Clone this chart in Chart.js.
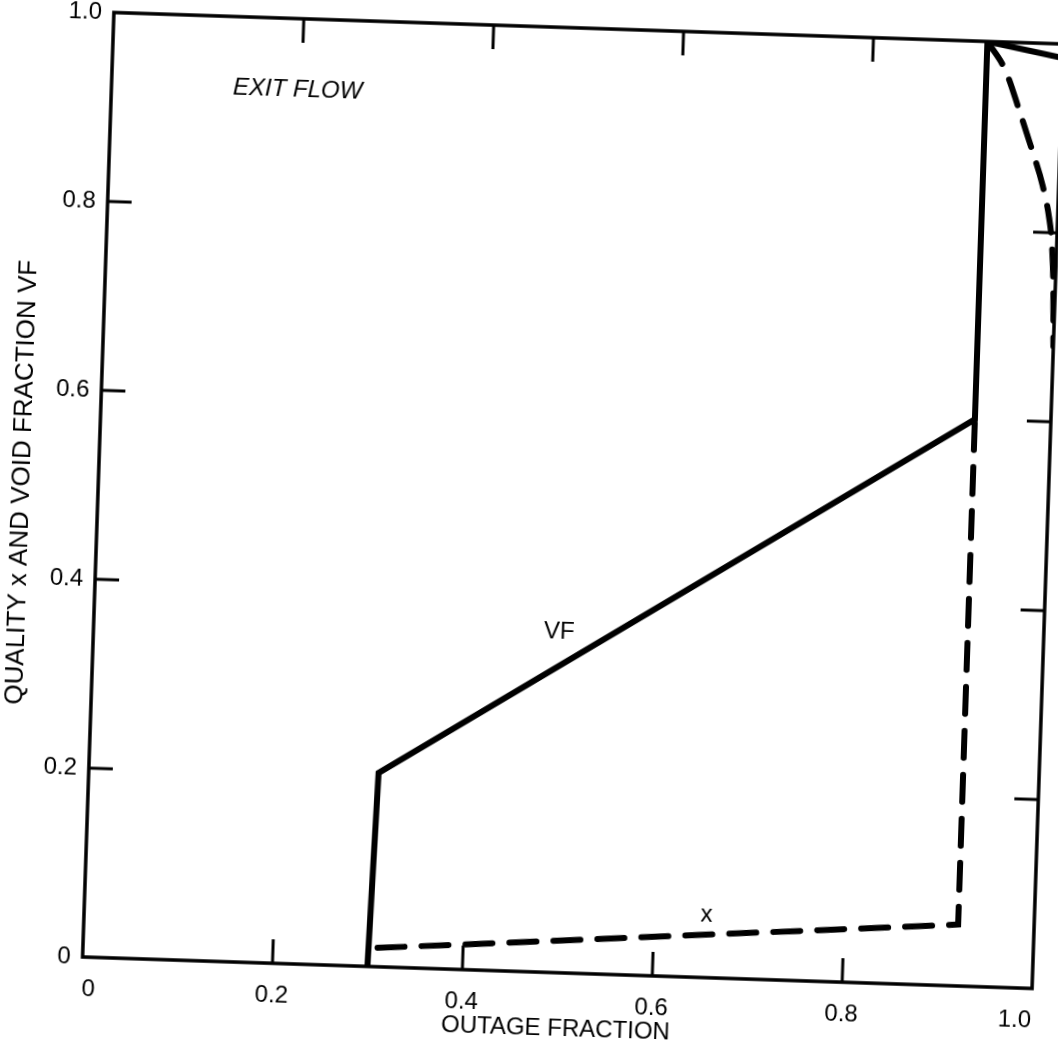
<!DOCTYPE html>
<html>
<head>
<meta charset="utf-8">
<script src="https://cdn.jsdelivr.net/npm/chart.js@4.4.0/dist/chart.umd.min.js"></script>
<style>
  html, body { margin: 0; padding: 0; background: #fff; overflow: hidden; }
  /* the scan is a little tilted, so tilt the canvas the same way */
  #chart { display: block; transform: rotate(1.9deg); transform-origin: 573px 500px; }
</style>
</head>
<body>
<canvas id="chart" width="1058" height="1041"></canvas>
<script>
// void fraction VF (solid line)
var vfX = [0.30, 0.305, 0.92, 0.92, 1.0];
var vfY = [0, 0.205, 0.60, 1.0, 0.985];

// quality x (dashed line)
var qualX = [0.31, 0.92, 0.92];
var qualY = [0.02, 0.065, 1.0];
var qualCurveX = [0.92, 0.94, 0.956, 0.971, 0.983, 0.991, 0.995, 0.998, 1.0];
var qualCurveY = [1.0, 0.970, 0.928, 0.886, 0.850, 0.816, 0.787, 0.74, 0.68];

// axis ticks
var tickVals = [0, 0.2, 0.4, 0.6, 0.8, 1.0];
var innerTicks = [0.2, 0.4, 0.6, 0.8];

// text written inside the plot
var notes = [
  { text: 'EXIT FLOW', x: 0.128, y: 0.924, align: 'left', italic: true, size: 24 },
  { text: 'VF', x: 0.49, y: 0.36, align: 'center', italic: false, size: 24 },
  { text: 'x', x: 0.655, y: 0.066, align: 'center', italic: false, size: 24 }
];

function pts(xs, ys) {
  var out = [];
  for (var i = 0; i < xs.length; i++) out.push({ x: xs[i], y: ys[i] });
  return out;
}

function fmt(v) {
  return Math.abs(v) < 1e-9 ? '0' : v.toFixed(1);
}

Chart.defaults.font.family = "'Liberation Sans', Arial, sans-serif";
Chart.defaults.color = '#000';

// frame + inward tick marks + in-plot labels
var framePlugin = {
  id: 'frame',
  afterDatasetsDraw: function (chart) {
    var ctx = chart.ctx;
    var a = chart.chartArea;
    var xs = chart.scales.x, ys = chart.scales.y;
    ctx.save();
    ctx.strokeStyle = '#000';
    ctx.lineWidth = 3.5;
    ctx.strokeRect(a.left, a.top, a.right - a.left, a.bottom - a.top);

    ctx.lineWidth = 3;
    var len = 24;
    innerTicks.forEach(function (v) {
      var px = xs.getPixelForValue(v);
      var py = ys.getPixelForValue(v);
      ctx.beginPath();
      ctx.moveTo(px, a.bottom); ctx.lineTo(px, a.bottom - len);
      ctx.moveTo(px, a.top); ctx.lineTo(px, a.top + len);
      ctx.moveTo(a.left, py); ctx.lineTo(a.left + len, py);
      ctx.moveTo(a.right, py); ctx.lineTo(a.right - len, py);
      ctx.stroke();
    });

    ctx.fillStyle = '#000';
    ctx.textBaseline = 'middle';
    notes.forEach(function (n) {
      ctx.font = (n.italic ? 'italic ' : '') + n.size + "px 'Liberation Sans', Arial, sans-serif";
      ctx.textAlign = n.align;
      ctx.fillText(n.text, xs.getPixelForValue(n.x), ys.getPixelForValue(n.y));
    });
    ctx.restore();
  }
};

const data = {
  datasets: [{
    label: 'VF',
    data: pts(vfX, vfY),
    borderColor: '#000',
    borderWidth: 6,
    borderJoinStyle: 'miter',
    pointRadius: 0,
    tension: 0
  }, {
    label: 'x',
    data: pts(qualX, qualY),
    borderColor: '#000',
    borderWidth: 6,
    borderDash: [27, 17],
    borderCapStyle: 'round',
    pointRadius: 0,
    tension: 0
  }, {
    label: 'x (after dryout)',
    data: pts(qualCurveX, qualCurveY),
    borderColor: '#000',
    borderWidth: 6,
    borderDash: [27, 17],
    borderCapStyle: 'round',
    pointRadius: 0,
    cubicInterpolationMode: 'monotone'
  }]
};

const config = {
  type: 'line',
  data: data,
  plugins: [framePlugin],
  options: {
    responsive: false,
    animation: false,
    layout: { padding: { top: 28, right: 10, left: 0, bottom: 0 } },
    plugins: {
      legend: { display: false },
      tooltip: { enabled: false }
    },
    scales: {
      x: {
        type: 'linear',
        min: 0,
        max: 1,
        afterBuildTicks: function (s) { s.ticks = tickVals.map(function (v) { return { value: v }; }); },
        afterFit: function (s) { s.height = 68; s.paddingLeft = 0; s.paddingRight = 0; },
        grid: { drawOnChartArea: false, drawTicks: false },
        border: { display: false },
        ticks: {
          padding: 18,
          align: 'inner',
          maxRotation: 0,
          font: { size: 24 },
          callback: function (v) { return fmt(v); }
        },
        title: {
          display: true,
          text: 'OUTAGE FRACTION',
          font: { size: 24, lineHeight: 1 },
          padding: 0
        }
      },
      y: {
        type: 'linear',
        min: 0,
        max: 1,
        afterBuildTicks: function (s) { s.ticks = tickVals.map(function (v) { return { value: v }; }); },
        afterFit: function (s) { s.width = 98; },
        grid: { drawOnChartArea: false, drawTicks: false },
        border: { display: false },
        ticks: {
          padding: 12,
          font: { size: 24 },
          callback: function (v) { return fmt(v); }
        },
        title: {
          display: true,
          text: 'QUALITY x AND VOID FRACTION VF',
          font: { size: 26 },
          padding: { top: 6, bottom: 0 }
        }
      }
    }
  }
};

const myChart = new Chart(document.getElementById('chart'), config);
</script>
</body>
</html>
